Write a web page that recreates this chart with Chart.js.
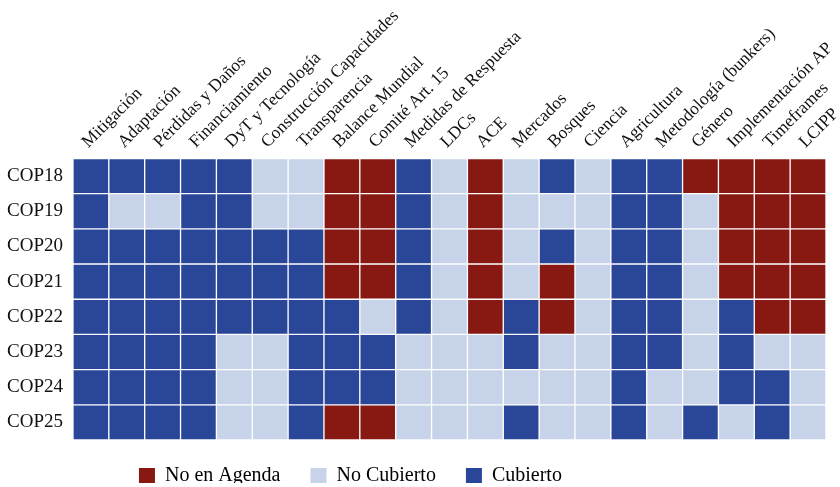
<!DOCTYPE html>
<html>
<head>
<meta charset="utf-8">
<script src="https://cdn.jsdelivr.net/npm/chart.js@4/dist/chart.umd.min.js"></script>
<style>
  html, body { margin: 0; padding: 0; background: #ffffff; }
  #wrap { width: 840px; height: 487px; position: relative; }
</style>
</head>
<body>
<div id="wrap"><canvas id="c"></canvas></div>
<script>
// Topics (columns)
const topics = ["Mitigación", "Adaptación", "Pérdidas y Daños", "Financiamiento", "DyT y Tecnología",
  "Construcción Capacidades", "Transparencia", "Balance Mundial", "Comité Art. 15", "Medidas de Respuesta",
  "LDCs", "ACE", "Mercados", "Bosques", "Ciencia", "Agricultura", "Metodología (bunkers)", "Género",
  "Implementación AP", "Timeframes", "LCIPP"];

// Rows (conferences)
const cops = ["COP18", "COP19", "COP20", "COP21", "COP22", "COP23", "COP24", "COP25"];

// Status categories: 0 = No en Agenda, 1 = No Cubierto, 2 = Cubierto
const statusNames = ["No en Agenda", "No Cubierto", "Cubierto"];
const statusColors = ["#881812", "#c7d3e9", "#294698"];

// Status of each topic per conference
const cop18 = [2,2,2,2,2,1,1,0,0,2,1,0,1,2,1,2,2,0,0,0,0];
const cop19 = [2,1,1,2,2,1,1,0,0,2,1,0,1,1,1,2,2,1,0,0,0];
const cop20 = [2,2,2,2,2,2,2,0,0,2,1,0,1,2,1,2,2,1,0,0,0];
const cop21 = [2,2,2,2,2,2,2,0,0,2,1,0,1,0,1,2,2,1,0,0,0];
const cop22 = [2,2,2,2,2,2,2,2,1,2,1,0,2,0,1,2,2,1,2,0,0];
const cop23 = [2,2,2,2,1,1,2,2,2,1,1,1,2,1,1,2,2,1,2,1,1];
const cop24 = [2,2,2,2,1,1,2,2,2,1,1,1,1,1,1,2,1,1,2,2,1];
const cop25 = [2,2,2,2,1,1,2,0,0,1,1,1,2,1,1,2,1,2,1,2,1];

const rows = [cop18, cop19, cop20, cop21, cop22, cop23, cop24, cop25];

const FONT = "'Liberation Serif', 'DejaVu Serif', serif";

const datasets = rows.map((r, i) => ({
  label: cops[i],
  data: r.map(() => 1),          // each cell occupies one unit row
  backgroundColor: r.map(s => statusColors[s]),
  borderColor: '#ffffff',
  borderWidth: 1,
  borderSkipped: false,
  barPercentage: 1,
  categoryPercentage: 1
}));

const legendPlace = {
  id: 'legendPlace',
  afterLayout(chart) {
    const lg = chart.legend;
    if (!lg) return;
    const shift = chart.chartArea.left + 36 - lg.left;
    lg.left += shift;
    lg.right += shift;
    lg.top -= 4;
    lg.bottom -= 4;
  }
};

new Chart(document.getElementById('c'), {
  type: 'bar',
  data: { labels: topics, datasets },
  plugins: [legendPlace],
  options: {
    responsive: true,
    maintainAspectRatio: false,
    animation: false,
    layout: { padding: { left: -3, right: 0, top: 0, bottom: 0 } },
    scales: {
      x: {
        position: 'top',
        stacked: true,
        grid: { display: false, drawTicks: false },
        border: { display: false },
        afterFit(scale) {
          scale.paddingRight = 14;
          scale.paddingLeft = 0;
        },
        ticks: {
          autoSkip: false,
          minRotation: 45,
          maxRotation: 45,
          padding: 6,
          labelOffset: 9,
          color: '#111111',
          font: { family: FONT, size: 17.5 }
        }
      },
      y: {
        stacked: true,
        reverse: true,
        min: 0,
        max: cops.length,
        grid: { display: false, drawTicks: false },
        border: { display: false },
        afterBuildTicks(scale) {
          scale.ticks = cops.map((_, i) => ({ value: i + 0.5 }));
        },
        ticks: {
          padding: 10,
          color: '#111111',
          font: { family: FONT, size: 19 },
          callback: (v) => cops[Math.floor(v)]
        }
      }
    },
    plugins: {
      tooltip: { enabled: false },
      legend: {
        position: 'bottom',
        align: 'start',
        maxHeight: 47,
        labels: {
          boxWidth: 16,
          boxHeight: 16,
          padding: 30,
          color: '#111111',
          font: { family: FONT, size: 20 },
          generateLabels: () => statusNames.map((n, i) => ({
            text: n,
            fillStyle: statusColors[i],
            strokeStyle: statusColors[i],
            lineWidth: 0,
            hidden: false,
            datasetIndex: i
          }))
        }
      }
    }
  }
});
</script>
</body>
</html>
